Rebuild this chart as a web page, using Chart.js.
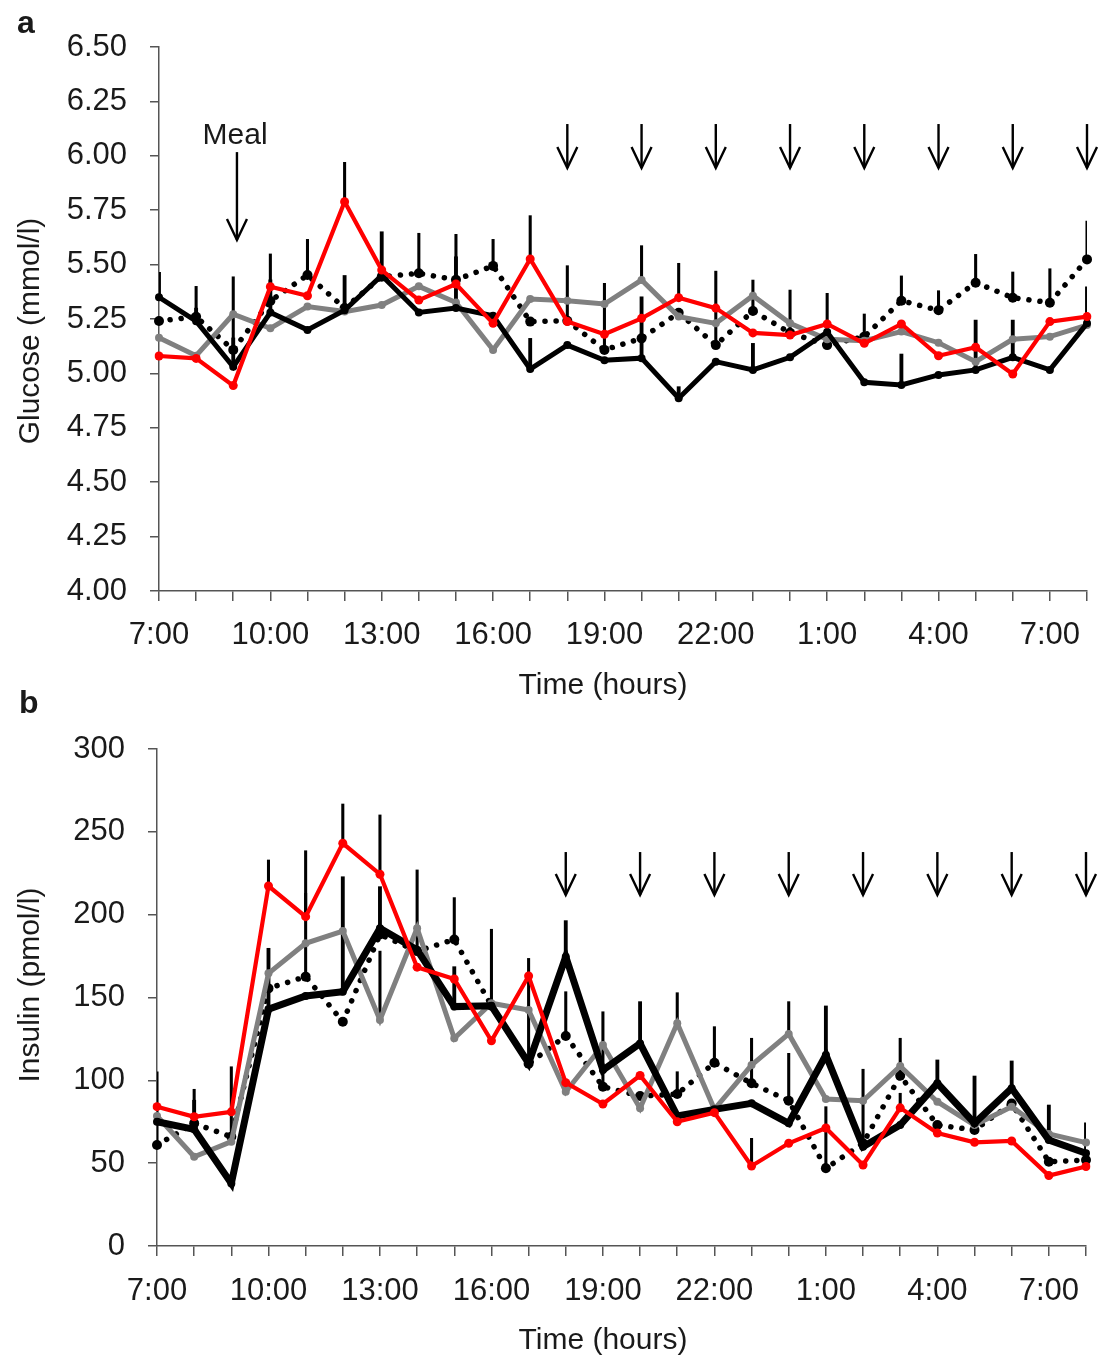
<!DOCTYPE html>
<html><head><meta charset="utf-8">
<script src="https://cdn.jsdelivr.net/npm/chart.js@4.4.1/dist/chart.umd.min.js"></script>
<style>
html,body{margin:0;padding:0;background:#fff;}
#wrap{position:relative;width:1103px;height:1357px;overflow:hidden;font-family:'Liberation Sans Narrow','Arial Narrow','Liberation Sans',Arial,sans-serif;color:#1a1a1a;}
canvas{position:absolute;left:0;}
.lbl{position:absolute;white-space:nowrap;font-size:30px;line-height:1;}
.panel{position:absolute;font-family:'Liberation Sans',Arial,sans-serif;font-weight:bold;font-size:32px;line-height:1;}
.c{transform:translate(-50%,-50%);}
.r{transform:translate(-50%,-50%) rotate(-90deg);}
</style></head><body>
<div id="wrap">
<canvas id="ca" width="1103" height="700" style="top:0"></canvas>
<canvas id="cb" width="1103" height="657" style="top:700px"></canvas>
<div class="panel" style="left:17px;top:6px">a</div>
<div class="panel" style="left:19px;top:686px">b</div>
<div class="lbl r" style="left:29px;top:331px">Glucose (mmol/l)</div>
<div class="lbl c" style="left:603px;top:684px">Time (hours)</div>
<div class="lbl r" style="left:29px;top:985px">Insulin (pmol/l)</div>
<div class="lbl c" style="left:603px;top:1339px">Time (hours)</div>
</div>
<script>
// ---------- DATA ----------
const hours = ['7:00','8:00','9:00','10:00','11:00','12:00','13:00','14:00','15:00','16:00','17:00','18:00','19:00','20:00','21:00','22:00','23:00','0:00','1:00','2:00','3:00','4:00','5:00','6:00','7:00','8:00'];
const mealIndex = 2;
const doseIndices = [11,13,15,17,19,21,23,25];

const glucoseTicks = [4.00,4.25,4.50,4.75,5.00,5.25,5.50,5.75,6.00,6.25,6.50];
const insulinTicks = [0,50,100,150,200,250,300];

// Glucose (mmol/l)
const glucoseBlack  = [5.35,5.24,5.03,5.28,5.20,5.29,5.45,5.28,5.30,5.265,5.02,5.13,5.06,5.07,4.886,5.054,5.016,5.074,5.19,4.959,4.947,4.993,5.016,5.074,5.016,5.23];
const glucoseDotted = [5.241,5.26,5.108,5.333,5.452,5.30,5.444,5.46,5.43,5.494,5.238,5.242,5.108,5.161,5.279,5.13,5.287,5.187,5.13,5.169,5.334,5.29,5.417,5.348,5.325,5.524];
const glucoseGray   = [5.164,5.081,5.272,5.207,5.307,5.284,5.314,5.40,5.326,5.108,5.342,5.334,5.319,5.429,5.261,5.23,5.357,5.23,5.157,5.15,5.192,5.141,5.054,5.157,5.169,5.222];
const glucoseRed    = [5.08,5.069,4.944,5.398,5.357,5.789,5.475,5.337,5.411,5.23,5.526,5.238,5.18,5.253,5.348,5.30,5.186,5.176,5.227,5.138,5.227,5.081,5.12,4.997,5.238,5.261];
// upper error-bar ends (null = no bar)
const glucoseErrBlack  = [5.465,5.30,5.163,5.43,null,5.45,5.651,null,5.536,null,5.161,null,null,5.352,4.939,null,5.138,null,null,null,5.089,null,5.245,5.245,null,5.398];
const glucoseErrDotted = [null,5.40,5.444,5.549,5.616,null,null,5.644,5.639,5.616,null,5.495,5.414,null,null,5.47,5.429,5.383,5.368,5.273,5.448,5.38,5.547,5.466,5.481,5.70];
const glucoseErrGray   = [null,null,null,null,null,null,null,null,null,null,null,null,null,5.587,null,null,null,null,null,null,null,null,null,null,null,null];
const glucoseErrRed    = [null,null,null,null,null,5.97,null,null,null,null,5.725,null,null,null,5.506,null,null,null,null,null,null,null,null,null,null,null];

// Insulin (pmol/l)
const insulinBlack  = [75,70.4,37.8,142.9,150.9,153.5,191.8,178.7,144.5,145,110.3,174.6,106.2,122.3,78.5,82.5,86.1,74.1,115.3,59.9,73,98.2,74.1,95.2,64,56];
const insulinDotted = [61,74,66,155.5,162.6,135.4,188,178,185,145,110,126.8,96.2,90.5,91.7,110.6,98.2,87.7,46.9,62,102.8,73,70,86,50.9,51.9];
const insulinGray   = [78.5,53.9,63,164.6,182.7,190.1,136.4,191.8,125.4,146.5,142.5,93.1,121.3,83.1,134.4,82.5,109.2,128,88.7,87.7,108.6,87.1,73,84.1,67.6,62.4];
const insulinRed    = [84.1,78,81,217.3,198.8,243.1,224.4,168.3,161.2,123.9,163,98.6,85.7,102.9,75,80.5,48.3,62,71.2,48.9,83.4,68.2,62.6,63.4,42.5,48];
const insulinErrBlack  = [null,88,null,179.7,null,222.9,216.9,null,168.6,null,null,196.4,null,147.5,null,null,null,null,144.9,null,null,112.3,102.6,111.7,85.1,74.4];
const insulinErrDotted = [105.2,94.6,108.2,null,212.9,null,null,227,210.3,191.2,173.6,153.5,141.4,null,105.2,132.4,125.4,116.3,84.1,106.7,125.4,null,null,null,null,null];
const insulinErrGray   = [null,null,null,null,null,null,178,null,null,null,null,null,null,null,152.9,null,null,147.5,null,null,null,null,null,null,null,null];
const insulinErrRed    = [null,null,null,233,238.6,266.8,260.2,null,null,null,null,null,null,null,null,null,65,null,null,null,92.2,null,null,null,null,null];

// ---------- RENDER ----------
const FONT = "'Liberation Sans Narrow','Arial Narrow','Liberation Sans',Arial,sans-serif";
const AXIS = '#555555';
const TXT = '#1a1a1a';

function lineSet(data, color, width, radius, dash, order){
  return {type:'line', data, borderColor:color, backgroundColor:color, borderWidth:width,
    pointRadius:radius, pointBorderWidth:0, pointBackgroundColor:color, pointHoverRadius:radius,
    borderDash:dash||[], borderCapStyle: dash ? 'round':'butt', borderJoinStyle:'miter',
    tension:0, fill:false, order};
}
function errSet(base, tops, thick){
  return {type:'bar', data: base.map((v,i)=> tops[i]==null ? null : [v, tops[i]]),
    backgroundColor:'#000', borderWidth:0, barThickness:thick, grouped:false, order:10};
}

const arrowPlugin = {
  id:'arrows',
  afterDatasetsDraw(chart, args, o){
    const ctx = chart.ctx, xs = chart.scales.x, ys = chart.scales.y;
    ctx.save();
    ctx.strokeStyle = '#000'; ctx.lineWidth = 2.4;
    const draw = (idx, from, to) => {
      const x = xs.getPixelForValue(idx);
      const y1 = ys.getPixelForValue(from), y2 = ys.getPixelForValue(to);
      ctx.beginPath(); ctx.moveTo(x, y1); ctx.lineTo(x, y2); ctx.stroke();
      ctx.beginPath(); ctx.moveTo(x - 10, y2 - 21); ctx.lineTo(x, y2); ctx.lineTo(x + 10, y2 - 21); ctx.stroke();
    };
    o.doses.forEach(i => draw(i, o.doseFrom, o.doseTo));
    if (o.meal != null) {
      draw(o.meal + 0.1, o.mealFrom, o.mealTo);
      ctx.fillStyle = TXT; ctx.font = '30px ' + FONT; ctx.textAlign = 'center'; ctx.textBaseline = 'middle';
      ctx.fillText('Meal', xs.getPixelForValue(o.meal + 0.05), ys.getPixelForValue(o.mealText));
    }
    ctx.restore();
  }
};

function makeChart(id, sets, yTicks, yFmt, geom, arrows){
  new Chart(document.getElementById(id), {
    data:{labels:hours, datasets:sets},
    options:{
      responsive:false, animation:false, events:[],
      layout:{padding:{left:0, top:geom.top, right:geom.right, bottom:0}},
      plugins:{legend:{display:false}, tooltip:{enabled:false}, arrows},
      scales:{
        x:{type:'category', offset:false,
          grid:{display:true, offset:false, drawOnChartArea:false, drawTicks:true, tickLength:10, color:AXIS, lineWidth:1.5},
          border:{display:true, color:AXIS, width:1.5},
          ticks:{autoSkip:false, maxRotation:0, minRotation:0, padding:geom.xpad, color:TXT,
            font:{family:FONT, size:31}, callback:(v,i)=> i % 3 === 0 ? hours[i] : ''},
          afterFit:s=>{ s.height = geom.xh; }
        },
        y:{type:'linear', min:yTicks[0], max:yTicks[yTicks.length-1],
          afterBuildTicks:s=>{ s.ticks = yTicks.map(v=>({value:v})); },
          grid:{display:true, drawOnChartArea:false, drawTicks:true, tickLength:9, color:AXIS, lineWidth:1.5},
          border:{display:true, color:AXIS, width:1.5},
          ticks:{padding:geom.ypad, color:TXT, font:{family:FONT, size:31}, callback:yFmt},
          afterFit:s=>{ s.width = geom.yw; }
        }
      }
    },
    plugins:[arrowPlugin]
  });
}

makeChart('ca', [
  lineSet(glucoseRed, '#ff0000', 4.2, 4.5, null, 1),
  lineSet(glucoseBlack, '#000000', 5, 4, null, 2),
  lineSet(glucoseGray, '#808080', 5, 4, null, 3),
  lineSet(glucoseDotted, '#000000', 5.5, 5, [0.1, 11], 4),
  errSet(glucoseBlack, glucoseErrBlack, 3.2),
  errSet(glucoseDotted, glucoseErrDotted, 2.4),
  errSet(glucoseGray, glucoseErrGray, 2.4),
  errSet(glucoseRed, glucoseErrRed, 2.4)
], glucoseTicks, v=>Number(v).toFixed(2),
  {top:47, right:8, xh:109, yw:159, xpad:16, ypad:23},
  {doses:doseIndices, doseFrom:6.146, doseTo:5.944, meal:mealIndex, mealFrom:6.017, mealTo:5.613, mealText:6.09});

makeChart('cb', [
  lineSet(insulinRed, '#ff0000', 4.2, 4.5, null, 1),
  lineSet(insulinBlack, '#000000', 7, 4, null, 2),
  lineSet(insulinGray, '#808080', 5, 4, null, 3),
  lineSet(insulinDotted, '#000000', 5.5, 5, [0.1, 11], 4),
  errSet(insulinBlack, insulinErrBlack, 3.2),
  errSet(insulinDotted, insulinErrDotted, 2.4),
  errSet(insulinGray, insulinErrGray, 2.4),
  errSet(insulinRed, insulinErrRed, 2.4)
], insulinTicks, v=>String(v),
  {top:49, right:17, xh:111, yw:157, xpad:17, ypad:23},
  {doses:doseIndices, doseFrom:237.8, doseTo:211.9, meal:null});
</script>
</body></html>
